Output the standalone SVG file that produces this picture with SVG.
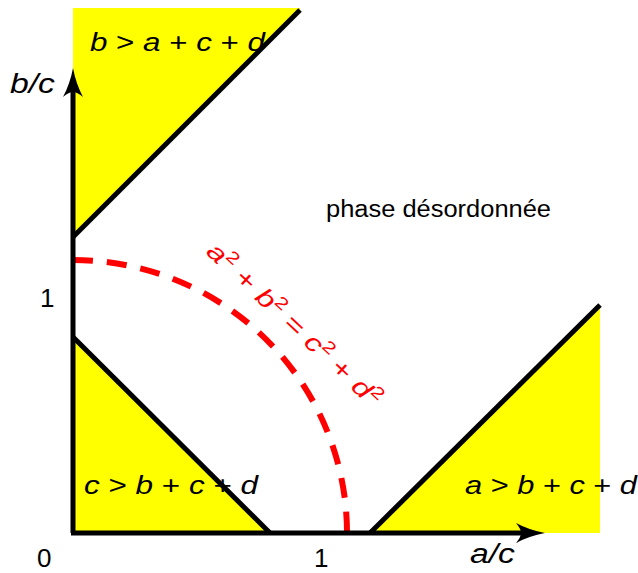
<svg xmlns="http://www.w3.org/2000/svg" width="638" height="573" viewBox="0 0 638 573">
<style>
.t{font-family:"Liberation Sans","DejaVu Sans",sans-serif;font-size:25px;fill:#000}
.i{font-style:italic}
.bl{stroke:#000;stroke-width:5;fill:none}
.y{fill:#ffff00;stroke:none}
</style>
<rect width="638" height="573" fill="#fff"/>
<g id="regions">
<polygon class="y" points="73,8 300,8 300,10 73,237"/>
<polygon class="y" points="73,337 270,533 73,533"/>
<polygon class="y" points="370,533 600,305 600,533"/>
</g>
<g id="boundaries">
<line class="bl" x1="73" y1="237" x2="300" y2="10"/>
<line class="bl" x1="73" y1="337" x2="270" y2="533"/>
<line class="bl" x1="370" y1="533" x2="600" y2="305"/>
</g>
<g id="curve">
<path d="M73,260 A274,273 0 0 1 347,533" fill="none" stroke="#ff0000" stroke-width="6" stroke-dasharray="20,14"/>
</g>
<g id="axes">
<line class="bl" x1="73" y1="533" x2="73" y2="85"/>
<line class="bl" x1="71" y1="533" x2="530" y2="533"/>
<path d="M73,68 Q76,84 83,97 Q77,92 73,92 Q69,92 63,97 Q70,84 73,68Z" fill="#000"/>
<path d="M545,533 Q529,536 516,543 Q521,537 521,533 Q521,529 516,523 Q529,530 545,533Z" fill="#000"/>
</g>
<g id="labels">
<text class="t i" x="10" y="93" style="font-size:27px" textLength="45" lengthAdjust="spacingAndGlyphs">b/c</text>
<text class="t" x="40" y="307" style="font-size:26px">1</text>
<text class="t" x="37" y="567" style="font-size:26px">0</text>
<text class="t" x="314" y="567" style="font-size:26px">1</text>
<text class="t i" x="470" y="563" style="font-size:27px" textLength="45" lengthAdjust="spacingAndGlyphs">a/c</text>
<text class="t" x="90" y="51" style="font-size:26px" textLength="175" lengthAdjust="spacingAndGlyphs"><tspan class="i">b</tspan> &gt; <tspan class="i">a</tspan> + <tspan class="i">c</tspan> + <tspan class="i">d</tspan></text>
<text class="t" x="84" y="494" style="font-size:26px" textLength="174" lengthAdjust="spacingAndGlyphs"><tspan class="i">c</tspan> &gt; <tspan class="i">b</tspan> + <tspan class="i">c</tspan> + <tspan class="i">d</tspan></text>
<text class="t" x="465" y="494" style="font-size:26px" textLength="172" lengthAdjust="spacingAndGlyphs"><tspan class="i">a</tspan> &gt; <tspan class="i">b</tspan> + <tspan class="i">c</tspan> + <tspan class="i">d</tspan></text>
<text class="t" x="326" y="217" style="font-size:23px" textLength="225" lengthAdjust="spacingAndGlyphs">phase désordonnée</text>
<text class="t" x="0" y="0" style="font-size:25px;fill:#ff0000" transform="translate(205,253) rotate(43)" textLength="228" lengthAdjust="spacingAndGlyphs"><tspan class="i">a</tspan><tspan style="font-size:17px" dy="-10">2</tspan><tspan dy="10"> + </tspan><tspan class="i">b</tspan><tspan style="font-size:17px" dy="-10">2</tspan><tspan dy="10"> = </tspan><tspan class="i">c</tspan><tspan style="font-size:17px" dy="-10">2</tspan><tspan dy="10"> + </tspan><tspan class="i">d</tspan><tspan style="font-size:17px" dy="-10">2</tspan></text>
</g>
</svg>
